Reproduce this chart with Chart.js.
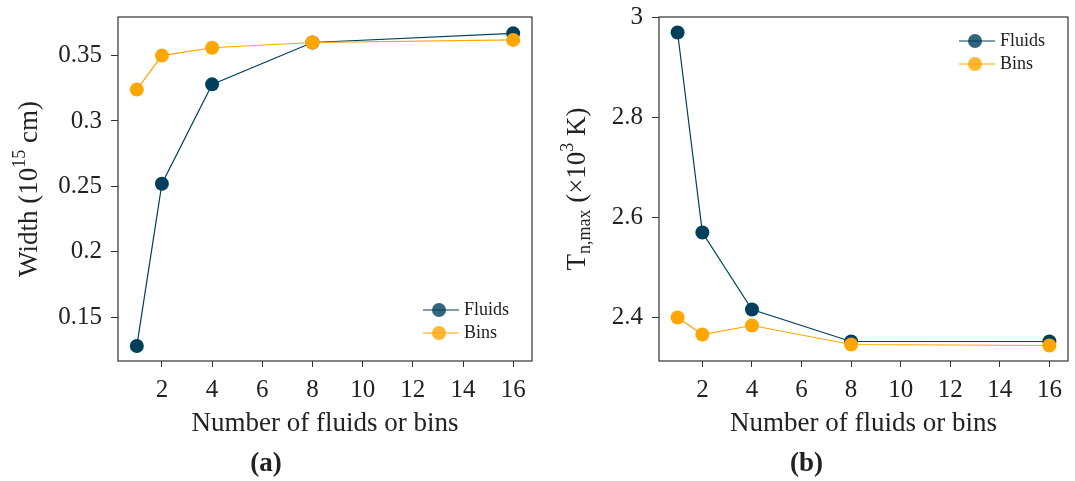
<!DOCTYPE html>
<html>
<head>
<meta charset="utf-8">
<script src="https://cdn.jsdelivr.net/npm/chart.js@4.4.1/dist/chart.umd.min.js"></script>
<style>
  body { margin: 0; background: #fff; }
  #wrap { position: relative; width: 1075px; height: 481px; }
  #wrap canvas { position: absolute; top: 0; }
</style>
</head>
<body>
<div id="wrap">
  <canvas id="widthChart" width="540" height="481" style="left:0"></canvas>
  <canvas id="tempChart" width="535" height="481" style="left:540px"></canvas>
</div>
<script>
// number of fluids / bins used in the runs
var nValues = [1, 2, 4, 8, 16];
var xTicks = [2, 4, 6, 8, 10, 12, 14, 16];

// panel (a): shell width, 10^15 cm
var widthFluids = [0.128, 0.252, 0.328, 0.360, 0.367];
var widthBins = [0.324, 0.350, 0.356, 0.360, 0.362];
var widthTicks = [0.15, 0.2, 0.25, 0.3, 0.35];

// panel (b): peak neutral temperature, 10^3 K
var tempFluids = [2.97, 2.57, 2.416, 2.352, 2.352];
var tempBins = [2.40, 2.366, 2.384, 2.346, 2.344];
var tempTicks = [2.4, 2.6, 2.8, 3];

var FLUID_COLOR = '#003f5c';
var BIN_COLOR = '#ffa600';
var SERIF = '"Liberation Serif", "DejaVu Serif", serif';
var AXIS_COLOR = '#333333';

function points(ys) {
    return nValues.map(function (x, i) { return { x: x, y: ys[i] }; });
}

// draws a run of text pieces, some of them raised or lowered (super/subscripts)
function drawRich(ctx, parts, cx, cy, rotate) {
    ctx.save();
    ctx.translate(cx, cy);
    if (rotate) ctx.rotate(-Math.PI / 2);
    var total = 0;
    parts.forEach(function (p) {
        ctx.font = p.size + 'px ' + SERIF;
        p.w = ctx.measureText(p.text).width;
        total += p.w;
    });
    var x = -total / 2;
    ctx.fillStyle = '#222';
    ctx.textBaseline = 'middle';
    ctx.textAlign = 'left';
    parts.forEach(function (p) {
        ctx.font = p.size + 'px ' + SERIF;
        ctx.fillText(p.text, x, p.dy || 0);
        x += p.w;
    });
    ctx.restore();
}

// frame, axis titles and the small legend
var decorPlugin = {
    id: 'decor',
    afterDraw: function (chart, args, opts) {
        var ctx = chart.ctx;
        var a = chart.chartArea;
        ctx.save();
        ctx.strokeStyle = AXIS_COLOR;
        ctx.lineWidth = 1.2;
        ctx.strokeRect(a.left, a.top, a.right - a.left, a.bottom - a.top);
        ctx.restore();

        drawRich(ctx, [{ text: 'Number of fluids or bins', size: 27 }], (a.left + a.right) / 2, opts.xTitleY, false);
        drawRich(ctx, opts.yTitle, opts.yTitleX, (a.top + a.bottom) / 2, true);

        var items = [
            { label: 'Fluids', color: 'rgba(0,63,92,0.8)', line: FLUID_COLOR },
            { label: 'Bins', color: 'rgba(255,166,0,0.8)', line: BIN_COLOR }
        ];
        items.forEach(function (it, i) {
            var y = opts.legendY(a) + i * 23;
            var x0 = a.right - 109;
            ctx.save();
            ctx.strokeStyle = it.line;
            ctx.lineWidth = 1.2;
            ctx.beginPath();
            ctx.moveTo(x0, y);
            ctx.lineTo(x0 + 36, y);
            ctx.stroke();
            ctx.fillStyle = it.color;
            ctx.beginPath();
            ctx.arc(x0 + 16, y, 7, 0, Math.PI * 2);
            ctx.fill();
            ctx.fillStyle = '#222';
            ctx.font = '18px ' + SERIF;
            ctx.textBaseline = 'middle';
            ctx.fillText(it.label, x0 + 41, y);
            ctx.restore();
        });
    }
};

function makeConfig(fluids, bins, yTicks, yMin, yMax, yWidth, rightPad, label, decor) {
    return {
        type: 'line',
        data: {
            datasets: [{
                label: 'Fluids',
                data: points(fluids),
                borderColor: FLUID_COLOR,
                backgroundColor: FLUID_COLOR,
                pointBackgroundColor: FLUID_COLOR,
                pointBorderColor: FLUID_COLOR,
                borderWidth: 1.2,
                pointRadius: 7,
                pointBorderWidth: 0,
                order: 1
            }, {
                label: 'Bins',
                data: points(bins),
                borderColor: BIN_COLOR,
                backgroundColor: BIN_COLOR,
                pointBackgroundColor: BIN_COLOR,
                pointBorderColor: BIN_COLOR,
                borderWidth: 1.2,
                pointRadius: 7,
                pointBorderWidth: 0,
                order: 0
            }]
        },
        options: {
            responsive: false,
            animation: false,
            events: [],
            layout: { padding: { left: 0, right: rightPad, top: 17, bottom: 0 } },
            scales: {
                x: {
                    type: 'linear',
                    min: 0.25,
                    max: 16.75,
                    afterBuildTicks: function (s) { s.ticks = xTicks.map(function (v) { return { value: v }; }); },
                    afterFit: function (s) { s.height = 78; s.paddingLeft = 0; s.paddingRight = 0; },
                    grid: { drawOnChartArea: false, drawTicks: true, tickLength: 6, tickColor: AXIS_COLOR, tickWidth: 1 },
                    border: { display: false },
                    ticks: {
                        autoSkip: false, maxRotation: 0, padding: 8, color: '#222',
                        font: { family: SERIF, size: 25 },
                        callback: function (v) { return String(v); }
                    }
                },
                y: {
                    min: yMin,
                    max: yMax,
                    afterBuildTicks: function (s) { s.ticks = yTicks.map(function (v) { return { value: v }; }); },
                    afterFit: function (s) { s.width = yWidth; s.paddingTop = 0; s.paddingBottom = 0; },
                    grid: { drawOnChartArea: false, drawTicks: true, tickLength: 7, tickColor: AXIS_COLOR, tickWidth: 1 },
                    border: { display: false },
                    ticks: {
                        padding: 9, color: '#222',
                        font: { family: SERIF, size: 25 },
                        callback: function (v) { return String(v); }
                    }
                }
            },
            plugins: {
                legend: { display: false },
                tooltip: { enabled: false },
                title: {
                    display: true,
                    position: 'bottom',
                    text: label,
                    color: '#222',
                    font: { family: SERIF, size: 27, weight: 'bold' },
                    padding: { top: 9, bottom: 0.6 }
                },
                decor: decor
            }
        },
        plugins: [decorPlugin]
    };
}

window.onload = function () {
    new Chart(document.getElementById('widthChart').getContext('2d'),
        makeConfig(widthFluids, widthBins, widthTicks, 0.1165, 0.3795, 118, 8, '(a)', {
            xTitleY: 424,
            yTitleX: 30,
            yTitle: [
                { text: 'Width (10', size: 27 },
                { text: '15', size: 18, dy: -10 },
                { text: ' cm)', size: 27 }
            ],
            legendY: function (a) { return a.bottom - 51; }
        }));

    new Chart(document.getElementById('tempChart').getContext('2d'),
        makeConfig(tempFluids, tempBins, tempTicks, 2.313, 3.001, 119, 2, '(b)', {
            xTitleY: 424,
            yTitleX: 38,
            yTitle: [
                { text: 'T', size: 27 },
                { text: 'n,max', size: 18, dy: 7 },
                { text: ' (\u00d710', size: 27 },
                { text: '3', size: 18, dy: -10 },
                { text: ' K)', size: 27 }
            ],
            legendY: function (a) { return a.top + 24; }
        }));
};
</script>
</body>
</html>
